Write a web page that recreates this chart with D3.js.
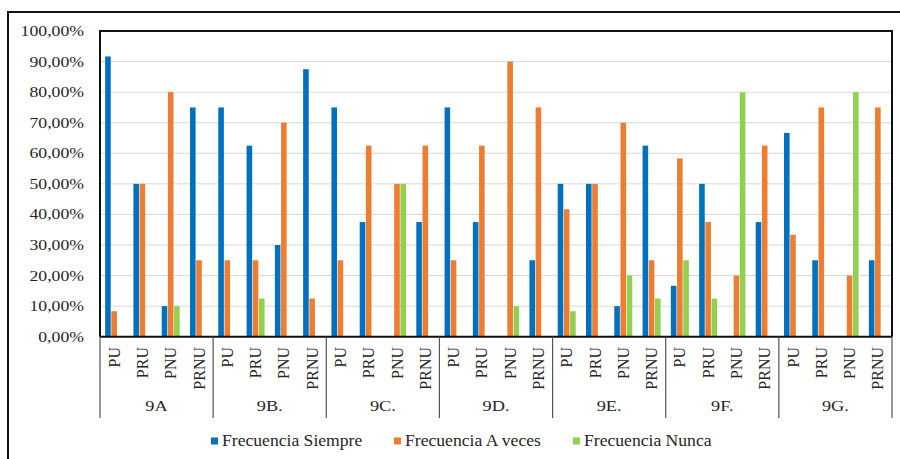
<!DOCTYPE html>
<html>
<head>
<meta charset="utf-8">
<script src="https://cdn.jsdelivr.net/npm/d3@7"></script>
<style>
  html, body { margin: 0; padding: 0; background: #fff; }
  svg { display: block; }
  svg text { font-family: "Liberation Serif", serif; }
</style>
</head>
<body>
<svg id="chart" width="900" height="459"></svg>
<script>
// Groups and their sub-categories
const groups = ["9A", "9B.", "9C.", "9D.", "9E.", "9F.", "9G."];
const subs = ["PU", "PRU", "PNU", "PRNU"];

// Series (percent), one value per group × sub-category, in order
const siempre = [
  91.67, 50, 10, 75,
  75, 62.5, 30, 87.5,
  75, 37.5, 0, 37.5,
  75, 37.5, 0, 25,
  50, 50, 10, 62.5,
  16.67, 50, 0, 37.5,
  66.67, 25, 0, 25
];
const aVeces = [
  8.33, 50, 80, 25,
  25, 25, 70, 12.5,
  25, 62.5, 50, 62.5,
  25, 62.5, 90, 75,
  41.67, 50, 70, 25,
  58.33, 37.5, 20, 62.5,
  33.33, 75, 20, 75
];
const nunca = [
  0, 0, 10, 0,
  0, 12.5, 0, 0,
  0, 0, 50, 0,
  0, 0, 10, 0,
  8.33, 0, 20, 12.5,
  25, 12.5, 80, 0,
  0, 0, 80, 0
];

const seriesNames = ["Frecuencia Siempre", "Frecuencia A veces", "Frecuencia Nunca"];
const seriesValues = [siempre, aVeces, nunca];
const colors = ["#0070C0", "#ED7D31", "#92D050"];
const yTicks = [0, 10, 20, 30, 40, 50, 60, 70, 80, 90, 100];

const fmt = v => v.toFixed(2).replace(".", ",") + "%";

const svg = d3.select("#chart");
const fontFam = "Liberation Serif";
const textFill = "#262626";

// Widen a text selection horizontally by a factor, keeping its anchor
function widen(sel, factor) {
  sel.each(function () {
    const w = this.getComputedTextLength();
    d3.select(this).attr("textLength", w * factor).attr("lengthAdjust", "spacingAndGlyphs");
  });
}

const plotLeft = 100, plotRight = 892, plotTop = 31, plotBottom = 336.7;

// Outer frame
svg.append("path")
  .attr("d", "M8,470 L8,12 L905,12")
  .attr("fill", "none").attr("stroke", "#111").attr("stroke-width", 2);

// Keys for each bar slot
const keys = [];
groups.forEach(g => subs.forEach(s => keys.push(g + "|" + s)));

const x0 = d3.scaleBand().domain(keys).range([plotLeft, plotRight]).padding(0);
const x1 = d3.scaleBand().domain(d3.range(3)).range([0, x0.bandwidth()])
  .paddingInner(0.1).paddingOuter(0.83);
const y = d3.scaleLinear().domain([0, 100]).range([plotBottom, plotTop]);

// Gridlines
svg.append("g").selectAll("line").data(yTicks.filter(t => t > 0 && t < 100)).join("line")
  .attr("x1", plotLeft).attr("x2", plotRight)
  .attr("y1", d => y(d)).attr("y2", d => y(d))
  .attr("stroke", "#d9d9d9").attr("stroke-width", 1);

// Y axis labels
svg.append("g").selectAll("text").data(yTicks).join("text")
  .attr("x", 84).attr("y", d => y(d) + 5)
  .attr("text-anchor", "end")
  .style("font-family", fontFam).attr("fill", textFill)
  .attr("font-size", 14.5)
  .text(d => fmt(d))
  .call(widen, 1.22);

// Bars
const barData = [];
seriesValues.forEach((vals, si) => {
  vals.forEach((v, i) => barData.push({ key: keys[i], si, v }));
});
svg.append("g").selectAll("rect").data(barData.filter(d => d.v > 0)).join("rect")
  .attr("x", d => x0(d.key) + x1(d.si))
  .attr("width", x1.bandwidth())
  .attr("y", d => y(d.v))
  .attr("height", d => y(0) - y(d.v))
  .attr("fill", d => colors[d.si]);

// Plot frame (top, left, right) and baseline
svg.append("path")
  .attr("d", `M${plotLeft},${plotBottom} L${plotLeft},${plotTop} L${plotRight},${plotTop} L${plotRight},${plotBottom}`)
  .attr("fill", "none").attr("stroke", "#111").attr("stroke-width", 2);
svg.append("line")
  .attr("x1", plotLeft).attr("x2", plotRight).attr("y1", plotBottom).attr("y2", plotBottom)
  .attr("stroke", "#111").attr("stroke-width", 2);

// Sub-category labels (rotated)
svg.append("g").selectAll("text").data(keys).join("text")
  .attr("transform", d => `translate(${x0(d) + x0.bandwidth() / 2 + 5.5},347) rotate(-90)`)
  .attr("text-anchor", "end")
  .style("font-family", fontFam).attr("fill", textFill)
  .attr("font-size", 16)
  .text(d => d.split("|")[1]);

// Group separators
const groupEdges = groups.map(g => x0(g + "|PU")).concat([plotRight]);
svg.append("g").selectAll("line").data(groupEdges).join("line")
  .attr("x1", d => d).attr("x2", d => d)
  .attr("y1", plotBottom).attr("y2", 418)
  .attr("stroke", "#555").attr("stroke-width", 1.2);

// Group labels
svg.append("g").selectAll("text").data(groups).join("text")
  .attr("x", g => x0(g + "|PU") + 2 * x0.bandwidth())
  .attr("y", 411)
  .attr("text-anchor", "middle")
  .style("font-family", fontFam).attr("fill", textFill)
  .attr("font-size", 15.5)
  .text(g => g)
  .call(widen, 1.18);

// Legend
const legendX = [211, 394, 573];
const lg = svg.append("g").selectAll("g").data(seriesNames).join("g")
  .attr("transform", (d, i) => `translate(${legendX[i]},0)`);
lg.append("rect").attr("x", 0).attr("y", 437.5).attr("width", 7).attr("height", 7)
  .attr("fill", (d, i) => colors[i]);
lg.append("text")
  .attr("x", 11).attr("y", 446)
  .style("font-family", fontFam).attr("fill", textFill)
  .attr("font-size", 16)
  .text(d => d)
  .call(widen, 1.1);
</script>
</body>
</html>
